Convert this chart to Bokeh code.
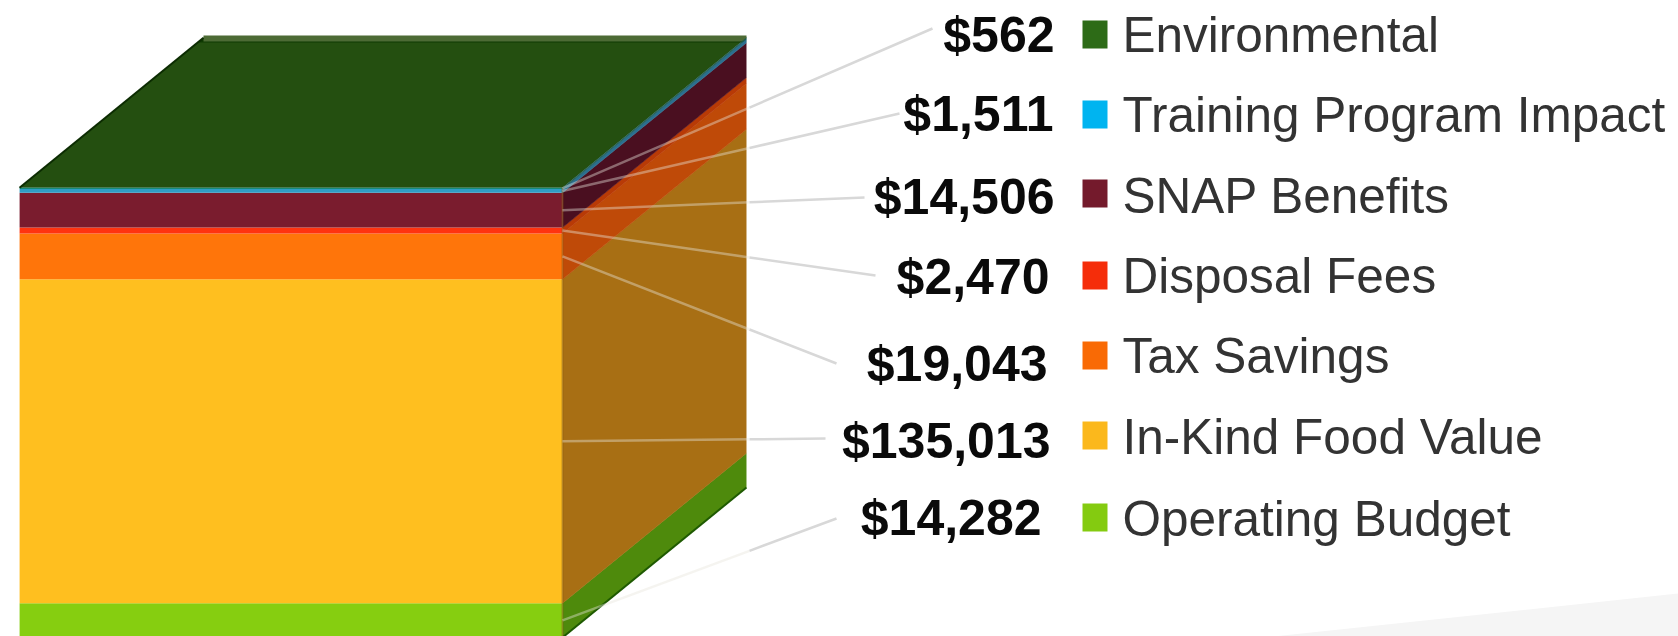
from bokeh.plotting import figure
from bokeh.models import Range1d
from bokeh.core.properties import value
from bokeh.embed import file_html
from bokeh.resources import INLINE

# ---- data (bottom of the stack first) ----
categories = ["Operating Budget", "In-Kind Food Value", "Tax Savings", "Disposal Fees",
              "SNAP Benefits", "Training Program Impact", "Environmental"]
amounts = [14282, 135013, 19043, 2470, 14506, 1511, 562]
amount_labels = ["$14,282", "$135,013", "$19,043", "$2,470", "$14,506", "$1,511", "$562"]

# ---- colours ----
front_colors = ["#86ce10", "#ffbf1f", "#ff750a", "#ff3310", "#7a1c2e", "#2f9dc5", "#178a78"]
side_colors = ["#4e8a0c", "#a86f14", "#bf4a08", "#b83a06", "#4a0f20", "#2a6f8f", "#1c5a50"]
legend_colors = ["#84cb10", "#fbb81c", "#f96a05", "#f52d0a", "#741a2c", "#00b4f0", "#2d6b17"]
top_color = "#244f10"

# ---- layout, in page pixels ----
W, H = 1678, 636
PAGE_ZERO = 637.0         # page y of $0
PX_PER_DOLLAR = 0.0024
FRONT_L, FRONT_R = 19, 562
DX, DY = 184, 150

value_right = [1041, 1050, 1047, 1049, 1054, 1053, 1054]
value_mid = [517, 440, 363, 276, 196, 113, 34]
legend_mid = [518, 436, 355, 275, 195, 114, 34]
swatch_top = [503, 421, 341, 261, 179, 100, 20]
leader_x = [836, 825, 836, 875, 864, 899, 932]
leader_y = [518, 438, 363, 275, 197, 113, 28]


def v(page_y):
    return (PAGE_ZERO - page_y) / PX_PER_DOLLAR


depth = DY / PX_PER_DOLLAR
bottoms, tops, run = [], [], 0
for a in amounts:
    bottoms.append(run)
    run += a
    tops.append(run)
total = run

p = figure(width=W, height=H, output_backend="svg", toolbar_location=None,
           x_range=Range1d(0, W), y_range=Range1d(v(H), v(0)),
           min_border=0, background_fill_color="white", border_fill_color="white")
p.axis.visible = False
p.grid.visible = False
p.outline_line_color = None

# faint sweep in the lower right corner
p.patch([1273, 1678, 1678], [v(636), v(593), v(636)], color="#f5f5f5", line_color=None)

# top face
p.patch([FRONT_L, FRONT_R, FRONT_R + DX, FRONT_L + DX],
        [total, total, total + depth, total + depth], color=top_color, line_color=None)
p.patch([FRONT_L + DX, FRONT_R + DX, FRONT_R + DX, FRONT_L + DX - 5],
        [total + depth, total + depth, v(42), v(42)], color="#0f3a02", line_color=None)
p.quad(left=FRONT_L + DX, right=FRONT_R + DX, bottom=v(41), top=v(35), color="#4d6b35", line_color=None)

# side faces
for b, t, c in zip(bottoms, tops, side_colors):
    p.patch([FRONT_R, FRONT_R + DX, FRONT_R + DX, FRONT_R],
            [b, b + depth, t + depth, t], color=c, line_color=c, line_width=0.5)

# front faces
p.quad(left=FRONT_L, right=FRONT_R, bottom=bottoms, top=tops, color=front_colors, line_color=None)

# soft edges of the block
p.line([FRONT_L, FRONT_L + DX], [total, total + depth], line_color="#0c2c02", line_width=2)
p.line([FRONT_R, FRONT_R + DX], [0, depth], line_color="#1f5a02", line_width=2)
p.line([FRONT_R + DX + 1, FRONT_R + DX + 1], [depth, total + depth], line_color="white", line_alpha=0.35, line_width=3)
p.line([FRONT_L - 1, FRONT_L - 1], [0, total], line_color="white", line_alpha=0.4, line_width=2)
p.line([FRONT_R, FRONT_R], [0, total], line_color="#8a5a10", line_alpha=0.45, line_width=2)

# leader lines: translucent over the side face, solid grey beyond it
edge_x = FRONT_R + DX + 3
for b, t, lx, ly in zip(bottoms, tops, leader_x, leader_y):
    mid = (b + t) / 2
    ty = v(ly)
    frac = (edge_x - FRONT_R) / (lx - FRONT_R)
    ex, ey = edge_x, mid + (ty - mid) * frac
    p.line([FRONT_R, ex], [mid, ey], line_color="#e8e4dc", line_alpha=0.42, line_width=2.5)
    p.line([ex, lx], [ey, ty], line_color="#d8d8d8", line_width=2.5)

# value labels
p.text(x=value_right, y=[v(m) for m in value_mid], text=amount_labels,
       text_font=value("Liberation Sans"), text_font_style="bold", text_font_size="50px",
       text_color="#0a0a0a", text_align="right", text_baseline="alphabetic")

# legend swatches and names
p.quad(left=1082, right=1107, top=[v(t) for t in swatch_top], bottom=[v(t + 28) for t in swatch_top],
       color=legend_colors, line_color=None)
p.text(x=1122, y=[v(m) for m in legend_mid], text=categories,
       text_font=value("Liberation Sans"), text_font_size="49.5px",
       text_color="#333333", text_align="left", text_baseline="alphabetic")

open("out.html", "w").write(file_html(p, INLINE))
